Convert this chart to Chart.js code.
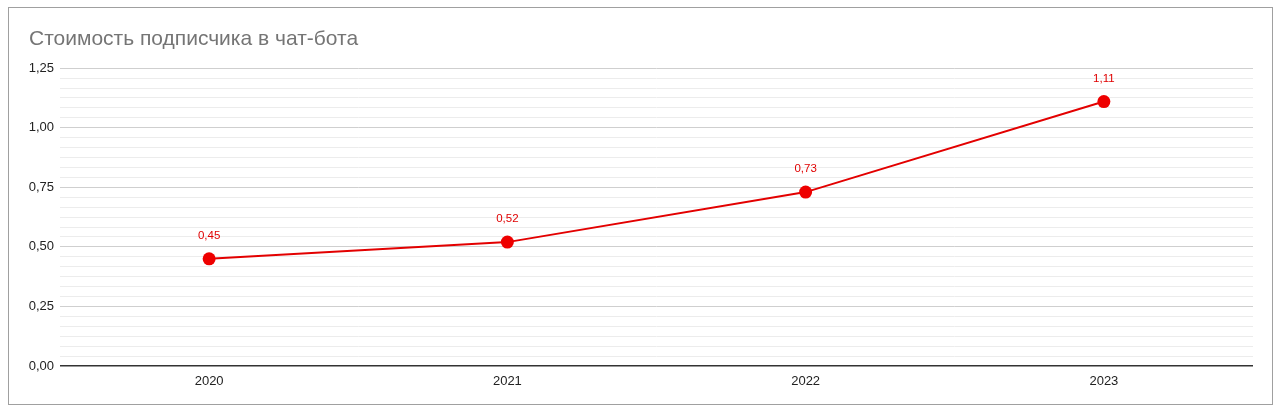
<!DOCTYPE html>
<html>
<head>
<meta charset="utf-8">
<script src="https://cdn.jsdelivr.net/npm/chart.js@4"></script>
<style>
  html, body { margin: 0; padding: 0; background: #fff; }
  #wrap { position: relative; width: 1280px; height: 406px; overflow: hidden; }
  #card { position: absolute; left: 8px; top: 7px; width: 1263px; height: 396px; border: 1px solid #a0a0a0; background: #fff; }
  canvas { position: absolute; left: 0; top: 0; }
</style>
</head>
<body>
<div id="wrap">
  <div id="card"></div>
  <canvas id="chart" width="1280" height="406"></canvas>
</div>
<script>
// данные графика
const years = ["2020", "2021", "2022", "2023"];
const costs = [0.45, 0.52, 0.73, 1.11];
const yMax = 1.25;
const majorStep = 0.25;
const minorPerMajor = 6;
const chartTitle = "Стоимость подписчика в чат-бота";

const fmt = v => v.toFixed(2).replace(".", ",");

// подписи значений над точками
const valueLabels = {
    id: "valueLabels",
    afterDatasetsDraw(chart) {
        const ctx = chart.ctx;
        const meta = chart.getDatasetMeta(0);
        ctx.save();
        ctx.font = "11.5px 'Liberation Sans', Arial, sans-serif";
        ctx.fillStyle = "#e00000";
        ctx.textAlign = "center";
        ctx.textBaseline = "middle";
        meta.data.forEach((pt, i) => {
            ctx.fillText(fmt(costs[i]), pt.x, pt.y - 23);
        });
        ctx.restore();
    }
};

new Chart(document.getElementById("chart"), {
    type: "line",
    data: {
        labels: years,
        datasets: [{
            data: costs,
            borderColor: "#e30000",
            backgroundColor: "#ee0000",
            borderWidth: 2,
            pointRadius: 6.5,
            pointHoverRadius: 6.5,
            pointBorderWidth: 0,
            fill: false,
            tension: 0
        }]
    },
    options: {
        responsive: false,
        animation: false,
        layout: { padding: { left: 29, right: 27, top: 0, bottom: 0 } },
        plugins: {
            legend: { display: false },
            tooltip: { enabled: false },
            title: {
                display: true,
                text: chartTitle,
                align: "start",
                color: "#757575",
                font: { family: "'Liberation Sans', Arial, sans-serif", size: 21, weight: "normal", lineHeight: 1.2 },
                padding: { top: 27, bottom: 16 }
            }
        },
        scales: {
            x: {
                offset: true,
                grid: { display: false },
                border: { display: false },
                ticks: {
                    color: "#222",
                    padding: 0,
                    font: { family: "'Liberation Sans', Arial, sans-serif", size: 13 }
                },
                afterFit(scale) { scale.height = 40; }
            },
            y: {
                min: 0,
                max: yMax,
                border: { display: false },
                afterBuildTicks(scale) {
                    const n = Math.round(yMax / majorStep) * minorPerMajor;
                    const t = [];
                    for (let i = 0; i <= n; i++) t.push({ value: i * majorStep / minorPerMajor });
                    scale.ticks = t;
                },
                afterFit(scale) { scale.width = 31; },
                grid: {
                    drawTicks: false,
                    color: c => c.index === 0 ? "#333" : (c.index % minorPerMajor === 0 ? "#cfcfcf" : "#ececec"),
                    lineWidth: c => c.index === 0 ? 1.5 : 1
                },
                ticks: {
                    autoSkip: false,
                    padding: 6,
                    color: "#222",
                    font: { family: "'Liberation Sans', Arial, sans-serif", size: 13 },
                    callback: (v, i) => i % minorPerMajor === 0 ? fmt(v) : ""
                }
            }
        }
    },
    plugins: [valueLabels]
});
</script>
</body>
</html>
